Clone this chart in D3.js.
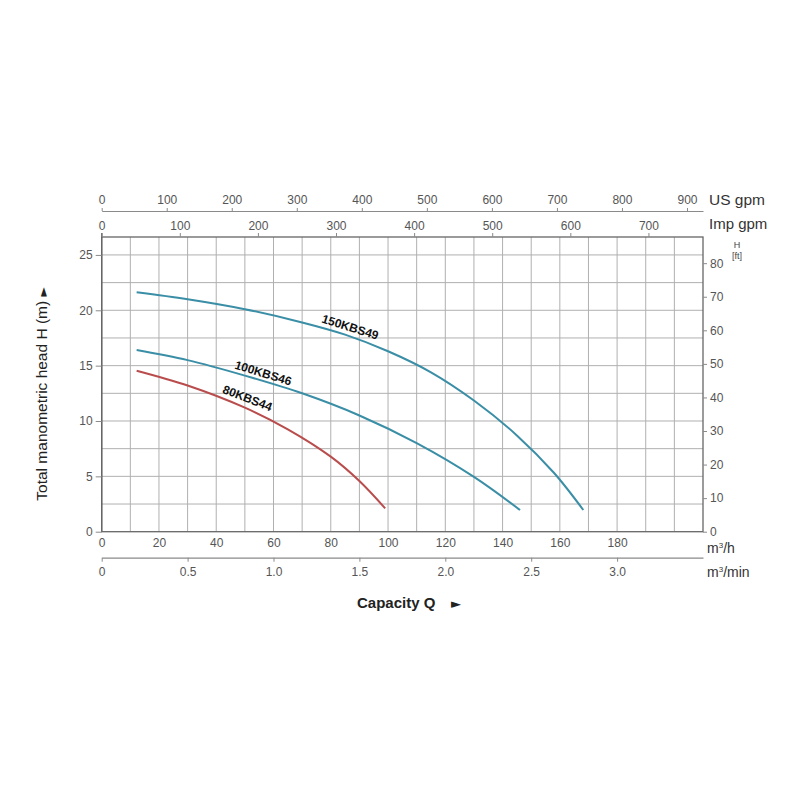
<!DOCTYPE html>
<html>
<head>
<meta charset="utf-8">
<script src="https://cdn.jsdelivr.net/npm/d3@7"></script>
<style>
  html, body { margin: 0; padding: 0; background: #fff; }
  svg { display: block; font-family: "Liberation Sans", Arial, Helvetica, sans-serif; }
</style>
</head>
<body>
<svg id="chart" width="800" height="800"></svg>
<script>
// ---- data ----
const seriesNames = ["150KBS49", "100KBS46", "80KBS44"];
const q150 = [12.2, 30, 50, 70, 85, 100, 115, 130, 145, 158, 168.2];
const h150 = [21.63, 21.0, 20.1, 18.9, 17.8, 16.3, 14.4, 11.85, 8.7, 5.3, 1.96];
const q100 = [12.2, 30, 50, 70, 90, 110, 130, 146.1];
const h100 = [16.41, 15.5, 14.1, 12.5, 10.5, 8.0, 4.95, 1.96];
const q80 = [12.2, 30, 50, 65, 80, 90, 99.0];
const h80 = [14.54, 13.2, 11.2, 9.25, 6.78, 4.58, 2.11];
const m3hTicks = [0, 20, 40, 60, 80, 100, 120, 140, 160, 180];
const m3minTicks = [0, 0.5, 1.0, 1.5, 2.0, 2.5, 3.0];
const m3minLabels = ["0", "0.5", "1.0", "1.5", "2.0", "2.5", "3.0"];
const usGpmTicks = [0, 100, 200, 300, 400, 500, 600, 700, 800, 900];
const impGpmTicks = [0, 100, 200, 300, 400, 500, 600, 700];
const headTicks = [0, 5, 10, 15, 20, 25];
const ftTicks = [0, 10, 20, 30, 40, 50, 60, 70, 80];

// ---- layout ----
const svg = d3.select("#chart");
const L = 101.7, R = 703, T = 237, B = 531.7;
const xMax = 210, yMax = 26.62;
const x = d3.scaleLinear().domain([0, xMax]).range([L, R]);
const y = d3.scaleLinear().domain([0, yMax]).range([B, T]);
const yFt = d3.scaleLinear().domain([0, 87.8]).range([B, T]);
const xMin = d3.scaleLinear().domain([0, xMax / 60]).range([L, R]);
const xUs = d3.scaleLinear().domain([0, xMax / 0.22712]).range([L, R]);
const xImp = d3.scaleLinear().domain([0, xMax / 0.27277]).range([L, R]);

const tickColor = "#555";
const lineColor = "#8a8a8a";
const unitFont = "Liberation Sans, Arial, sans-serif";

// grid
const g = svg.append("g");
g.selectAll(".vg").data(d3.range(10, xMax, 10)).join("line")
  .attr("x1", d => x(d)).attr("x2", d => x(d)).attr("y1", T).attr("y2", B)
  .attr("stroke", "#b0b0b0").attr("stroke-width", 1);
g.selectAll(".hg").data(d3.range(2.5, 26, 2.5)).join("line")
  .attr("x1", L).attr("x2", R).attr("y1", d => y(d)).attr("y2", d => y(d))
  .attr("stroke", "#b0b0b0").attr("stroke-width", 1);

// frame
svg.append("rect").attr("x", L).attr("y", T).attr("width", R - L).attr("height", B - T)
  .attr("fill", "none").attr("stroke", "#666").attr("stroke-width", 1.3);
svg.append("line").attr("x1", L).attr("x2", L).attr("y1", T - 4).attr("y2", B)
  .attr("stroke", "#666").attr("stroke-width", 1.3);

function styleAxis(sel) {
  sel.selectAll("path.domain").attr("stroke", lineColor).attr("stroke-width", 1.2);
  sel.selectAll(".tick line").attr("stroke", lineColor);
  sel.selectAll(".tick text").attr("fill", tickColor).attr("font-size", 12)
    .attr("font-family", unitFont);
}

// left axis (m)
const axL = svg.append("g").attr("transform", `translate(${L},0)`)
  .call(d3.axisLeft(y).tickValues(headTicks).tickSize(6).tickPadding(3).tickSizeOuter(0));
axL.select("path.domain").remove();
styleAxis(axL);

// right axis (ft)
const axR = svg.append("g").attr("transform", `translate(${R},0)`)
  .call(d3.axisRight(yFt).tickValues(ftTicks).tickSize(4).tickPadding(3).tickSizeOuter(0));
axR.select("path.domain").remove();
styleAxis(axR);

// bottom axis m3/h
const axB = svg.append("g").attr("transform", `translate(0,${B})`)
  .call(d3.axisBottom(x).tickValues(m3hTicks).tickSize(0).tickPadding(7).tickSizeOuter(0));
axB.select("path.domain").remove();
styleAxis(axB);

// bottom axis m3/min
const axM = svg.append("g").attr("transform", `translate(0,557.7)`)
  .call(d3.axisBottom(xMin).tickValues(m3minTicks).tickFormat((d, i) => m3minLabels[i])
    .tickSize(4).tickPadding(6).tickSizeOuter(0));
styleAxis(axM);

// top axis US gpm
const axU = svg.append("g").attr("transform", `translate(0,211)`)
  .call(d3.axisTop(xUs).tickValues(usGpmTicks).tickSize(3).tickPadding(4).tickSizeOuter(0));
styleAxis(axU);

// top axis Imp gpm
const axI = svg.append("g").attr("transform", `translate(0,${T})`)
  .call(d3.axisTop(xImp).tickValues(impGpmTicks).tickSize(4).tickPadding(3).tickSizeOuter(0));
axI.select("path.domain").remove();
styleAxis(axI);

// axis unit labels
svg.append("text").attr("x", 709).attr("y", 205).attr("font-size", 15.5).attr("fill", "#333")
  .attr("font-family", unitFont).text("US gpm");
svg.append("text").attr("x", 709).attr("y", 229).attr("font-size", 15).attr("fill", "#333")
  .attr("font-family", unitFont).text("Imp gpm");
svg.append("text").attr("x", 737).attr("y", 248).attr("font-size", 9).attr("fill", "#444")
  .attr("text-anchor", "middle").attr("font-family", unitFont).text("H");
svg.append("text").attr("x", 737).attr("y", 259).attr("font-size", 9).attr("fill", "#444")
  .attr("text-anchor", "middle").attr("font-family", unitFont).text("[ft]");

const mh = svg.append("text").attr("x", 707).attr("y", 553).attr("font-size", 14).attr("fill", "#333")
  .attr("font-family", unitFont);
mh.append("tspan").text("m");
mh.append("tspan").attr("dy", -5).attr("font-size", 8).text("3");
mh.append("tspan").attr("dy", 5).text("/h");
const mm = svg.append("text").attr("x", 707).attr("y", 577).attr("font-size", 14).attr("fill", "#333")
  .attr("font-family", unitFont);
mm.append("tspan").text("m");
mm.append("tspan").attr("dy", -5).attr("font-size", 8).text("3");
mm.append("tspan").attr("dy", 5).text("/min");

// titles
svg.append("text").attr("x", 357).attr("y", 608).attr("font-size", 15).attr("font-weight", "bold")
  .attr("fill", "#222").attr("font-family", unitFont).text("Capacity Q");
svg.append("text").attr("x", 451).attr("y", 608).attr("font-size", 13)
  .attr("fill", "#222").attr("font-family", "DejaVu Sans, sans-serif").text("►");

const yt = svg.append("text").attr("transform", "translate(47,394) rotate(-90)")
  .attr("text-anchor", "middle").attr("font-size", 15.5).attr("fill", "#222")
  .attr("font-family", unitFont);
yt.append("tspan").text("Total manometric head H (m)  ");
yt.append("tspan").attr("font-size", 12).attr("font-family", "DejaVu Sans, sans-serif").text("►");

// curves
const curves = [
  { name: seriesNames[0], q: q150, h: h150, color: "#3a8ea6", lx: 349, ly: 331, ang: 17.5 },
  { name: seriesNames[1], q: q100, h: h100, color: "#3a8ea6", lx: 262, ly: 377, ang: 17 },
  { name: seriesNames[2], q: q80, h: h80, color: "#b94c4c", lx: 246, ly: 402, ang: 21 }
];
const line = d3.line().x(d => x(d[0])).y(d => y(d[1])).curve(d3.curveCatmullRom.alpha(0.5));
curves.forEach(c => {
  const pts = c.q.map((v, i) => [v, c.h[i]]);
  svg.append("path").attr("d", line(pts)).attr("fill", "none")
    .attr("stroke", c.color).attr("stroke-width", 2);
  svg.append("text").attr("transform", `translate(${c.lx},${c.ly}) rotate(${c.ang})`)
    .attr("text-anchor", "middle").attr("font-size", 12).attr("font-weight", "bold")
    .attr("fill", "#111").attr("font-family", unitFont).text(c.name);
});
</script>
</body>
</html>
